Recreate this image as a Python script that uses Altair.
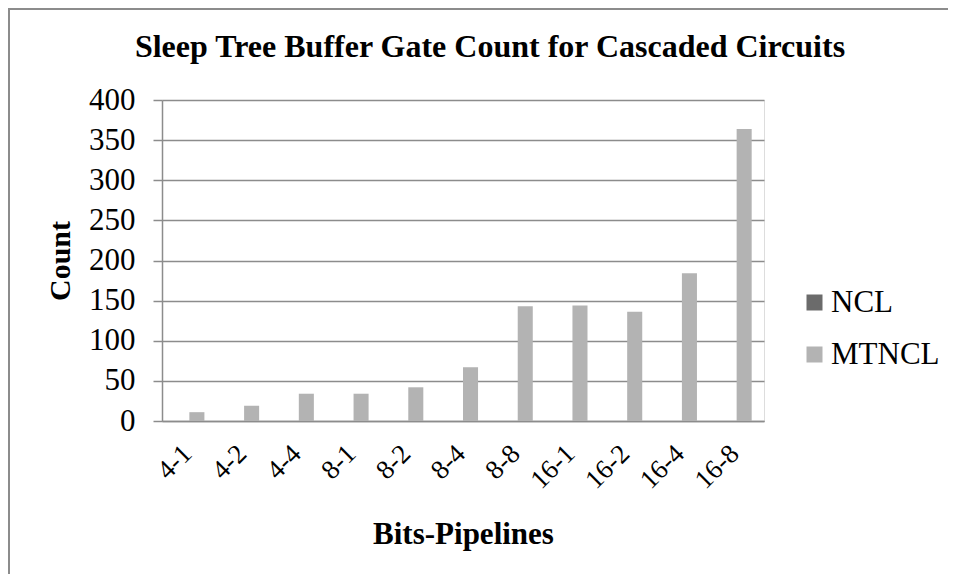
import altair as alt
import pandas as pd

categories = ["4-1", "4-2", "4-4", "8-1", "8-2", "8-4", "8-8", "16-1", "16-2", "16-4", "16-8"]
ncl = [0, 0, 0, 0, 0, 0, 0, 0, 0, 0, 0]
mtncl = [11, 19, 34, 34, 42, 67, 143, 144, 136, 184, 364]
series = ["NCL", "MTNCL"]
colors = ["#6b6b6b", "#b3b3b3"]
chart_title = "Sleep Tree Buffer Gate Count for Cascaded Circuits"

rows = []
for c, a, b in zip(categories, ncl, mtncl):
    rows.append({"cat": c, "series": "NCL", "value": a})
    rows.append({"cat": c, "series": "MTNCL", "value": b})
df = pd.DataFrame(rows)

FONT = "Liberation Serif"
W, H = 602, 321

bars = alt.Chart(df).mark_bar().encode(
    x=alt.X("cat:N", sort=categories,
            scale=alt.Scale(paddingInner=0.45, paddingOuter=0.225),
            axis=alt.Axis(title="Bits-Pipelines", labelAngle=-45, labelFontSize=27,
                          labelFont=FONT, labelColor="black", labelPadding=19,
                          labelOffset=-11,
                          ticks=False, domainColor="#8c8c8c", domainWidth=1.5,
                          titleFont=FONT, titleFontSize=31, titleFontWeight="bold",
                          titleColor="black", titleY=122, titleBaseline="alphabetic")),
    xOffset=alt.XOffset("series:N", sort=series, scale=alt.Scale(paddingInner=0, paddingOuter=0)),
    y=alt.Y("value:Q", scale=alt.Scale(domain=[0, 400], nice=False),
            axis=alt.Axis(title="Count", values=list(range(0, 401, 50)),
                          labelFontSize=31, labelFont=FONT, labelColor="black",
                          labelPadding=18, tickSize=9, tickColor="#8c8c8c", tickWidth=1.5,
                          domainColor="#8c8c8c", domainWidth=1.5,
                          gridColor="#8c8c8c", gridWidth=1.5,
                          titleFont=FONT, titleFontSize=30, titleFontWeight="bold",
                          titleColor="black", titleX=-93, titleY=160.5,
                          titleBaseline="alphabetic", titleAlign="center", titleAngle=-90)),
    color=alt.Color("series:N", sort=series,
                    scale=alt.Scale(domain=series, range=colors),
                    legend=alt.Legend(title=None, orient="none", legendX=637, legendY=187,
                                      symbolType="square", symbolSize=256, symbolStrokeWidth=0,
                                      labelFont=FONT, labelFontSize=31, labelColor="black",
                                      labelOffset=1, rowPadding=20, padding=0)),
)

base1 = alt.Chart(pd.DataFrame({"k": [0]}))
frame_left = base1.mark_rect(fill="#8c8c8c", strokeWidth=0).encode(
    x=alt.value(-154), x2=alt.value(-152), y=alt.value(-92), y2=alt.value(H + 160))
frame_top = base1.mark_rect(fill="#8c8c8c", strokeWidth=0).encode(
    x=alt.value(-154), x2=alt.value(W + 190), y=alt.value(-92), y2=alt.value(-90))

title_text = alt.Chart(pd.DataFrame({"t": [chart_title]})).mark_text(
    font=FONT, fontSize=32, fontWeight="bold", color="black",
    align="center", baseline="alphabetic"
).encode(text="t:N", x=alt.value(W / 2 + 27), y=alt.value(-43))

chart = alt.layer(frame_left, frame_top, bars, title_text).properties(
    width=W, height=H,
    autosize=alt.AutoSizeParams(type="none"),
    padding={"left": 154, "top": 92, "right": 184, "bottom": 153},
).configure_view(stroke=None).configure(background="white")

chart.save("out.html", embed_options={"renderer": "svg", "actions": False})
